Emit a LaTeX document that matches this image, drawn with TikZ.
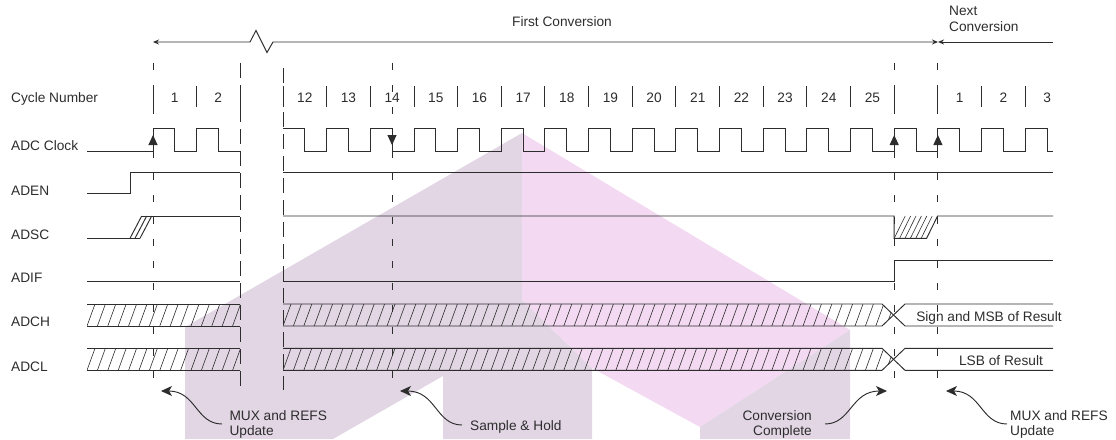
\documentclass[tikz,border=0pt]{standalone}
\usepackage{fontspec}
\setmainfont{Liberation Sans}
\usetikzlibrary{arrows.meta}
\definecolor{wmlav}{RGB}{226,214,229}
\definecolor{wmpink}{RGB}{243,217,241}
\definecolor{ink}{RGB}{45,45,45}
\begin{document}
\begin{tikzpicture}[x=1pt,y=-1pt,
  sig/.style={line width=0.95pt, draw=ink, line join=miter},
  hatchln/.style={line width=0.6pt, draw=ink},
  dashv/.style={line width=0.95pt, draw=ink, dash pattern=on 7pt off 15pt},
  brkv/.style={line width=0.95pt, draw=ink, dash pattern=on 15pt off 7pt},
  sepv/.style={line width=0.95pt, draw=ink},
  lbl/.style={anchor=base west, inner sep=0pt, text=ink, font=\fontsize{13.7}{15}\selectfont},
  num/.style={anchor=base, inner sep=0pt, text=ink, font=\fontsize{13.7}{15}\selectfont},
  curvarr/.style={line width=0.95pt, draw=ink, -{Stealth[length=11pt,width=10pt,inset=3pt]}},
  toparr/.style={line width=0.95pt, draw=ink},
  edgearr/.style={line width=0.95pt, draw=ink, -{Triangle[length=10pt,width=9pt]}}
]
\useasboundingbox (0,0) rectangle (1116,439);
% ---------- watermark ----------
\fill[wmlav] (185,439) -- (185,327) -- (522,133) -- (522,300) -- (592,368) -- (592,439) -- (443,439) -- (443,376) -- (333,439) -- cycle;
\fill[wmpink] (522,133) -- (850,330) -- (700,427) -- (592,368) -- (522,300) -- cycle;
\fill[wmlav] (700,427) -- (850,330) -- (850,439) -- (700,439) -- cycle;

% ---------- top conversion arrows ----------
\coordinate (fcL) at (153,42);
\coordinate (fcR) at (938,42);
\coordinate (ncR) at (1053,42);
\draw[toparr,{Stealth[length=6pt,width=5pt]}-{Stealth[length=6pt,width=5pt]}] (fcL) -- (250,42) -- (256,30.5) -- (267,52.5) -- (273,42) -- (fcR);
\draw[toparr,{Stealth[open,length=6pt,width=5pt]}-] (fcR) -- (ncR);
\node[num] (tfirst) at (562,26) {First Conversion};
\node[lbl] (tnext1) at (949,15) {Next};
\node[lbl] (tnext2) at (949,31.7) {Conversion};

% ---------- labels ----------
\node[lbl] (lcyc) at (11,102.7) {Cycle Number};
\node[lbl] (lclk) at (11,150.7) {ADC Clock};
\node[lbl] (laden) at (11,195) {ADEN};
\node[lbl] (ladsc) at (11,239.3) {ADSC};
\node[lbl] (ladif) at (11,282.7) {ADIF};
\node[lbl] (ladch) at (11,326.7) {ADCH};
\node[lbl] (ladcl) at (11,371.5) {ADCL};

% ---------- vertical dashed markers ----------
\foreach \x in {153,392,894.2,937.9} \draw[dashv] (\x,63) -- (\x,392);
\draw[brkv] (240,63) -- (240,387);
\draw[brkv] (283,68) -- (283,390);

% ---------- cycle separators and numbers ----------
\foreach \x in {153,196.5,240} \draw[sepv] (\x,86) -- (\x,107);
\foreach \k in {0,1,2,3,...,13,14,15,16,17} \draw[sepv] ({283+\k*43.66},86) -- ({283+\k*43.66},107);
\node[num] (c1a) at (174.75,102) {1};
\node[num] (c2a) at (218.25,102) {2};
\foreach \n in {12,...,25} \node[num] (c\n) at ({283+(\n-12+0.5)*43.66},102) {\n};
\node[num] (c1b) at ({283+15.5*43.66},102) {1};
\node[num] (c2b) at ({283+16.5*43.66},102) {2};
\node[num] (c3b) at ({283+17.5*43.66},102) {3};

% ---------- ADC clock ----------
\draw[sig] (87,151) -- (153,151) -- (153,128.5) -- (174.75,128.5) -- (174.75,151) -- (196.5,151) -- (196.5,128.5) -- (218.25,128.5) -- (218.25,151) -- (240,151);
\draw[sig] (283,128.5) \foreach \i in {0,...,16} { -- ({283+\i*43.66},128.5) -- ({283+(\i+0.5)*43.66},128.5) -- ({283+(\i+0.5)*43.66},151) -- ({283+(\i+1)*43.66},151) -- ({283+(\i+1)*43.66},128.5) } -- (1047,128.5) -- (1047,151) -- (1053,151);
\draw[edgearr] (153,151) -- (153,135);
\draw[edgearr] (392,128.5) -- (392,145);
\draw[edgearr] (894.2,151) -- (894.2,135);
\draw[edgearr] (937.9,151) -- (937.9,135);

% ---------- ADEN ----------
\draw[sig] (87,193.3) -- (130,193.3) -- (130,172.7) -- (240,172.7);
\draw[sig] (283,172.7) -- (1053,172.7);

% ---------- ADSC ----------
\draw[sig] (87,238.3) -- (140,238.3);
\foreach \s in {130,135,140} \draw[sig] (\s,238.3) -- ++(11.7,-22.3);
\draw[sig] (141.7,216) -- (240,216);
\draw[sig] (283,216) -- (894.2,216) -- (894.2,238.3) -- (926.6,238.3) -- (937.6,216) -- (1053,216);
\foreach \s in {0,...,5} \draw[hatchln] ({894.2+\s*5.4},238.3) -- ++(11,-22.3);

% ---------- ADIF ----------
\draw[sig] (87,281.7) -- (240,281.7);
\draw[sig] (283,281.7) -- (894.2,281.7) -- (894.2,260) -- (1053,260);

% ---------- ADCH / ADCL buses ----------
\foreach \yt/\yb in {304/326,348.3/370.3} {
  \pgfmathsetmacro{\ym}{(\yt+\yb)/2}
  \begin{scope}
    \clip (87,\yt) rectangle (240,\yb);
    \foreach \k in {0,...,15} \draw[hatchln] ({87+\k*10.4},\yb) -- ++(8,-22);
  \end{scope}
  \begin{scope}
    \clip (283,\yt) -- (882,\yt) -- (893.5,\ym) -- (882,\yb) -- (283,\yb) -- cycle;
    \foreach \k in {0,...,59} \draw[hatchln] ({283+\k*10.4},\yb) -- ++(8,-22);
  \end{scope}
  \draw[sig] (87,\yt) -- (240,\yt);
  \draw[sig] (87,\yb) -- (240,\yb);
  \draw[sig] (283,\yt) -- (882,\yt) -- (905,\yb) -- (1053,\yb);
  \draw[sig] (283,\yb) -- (882,\yb) -- (905,\yt) -- (1053,\yt);
}
\node[num] (tmsb) at (989,321.7) {Sign and MSB of Result};
\node[num] (tlsb) at (1001,365.5) {LSB of Result};

% ---------- annotations ----------
\node[lbl] (mux1a) at (229.3,420.7) {MUX and REFS};
\node[lbl] (mux1b) at (229.3,435.5) {Update};
\node[lbl] (sh) at (470,430) {Sample \& Hold};
\node[lbl,anchor=base east] (cc1) at (812,420.5) {Conversion};
\node[lbl,anchor=base east] (cc2) at (812,435.5) {Complete};
\node[lbl] (mux2a) at (1010,420.7) {MUX and REFS};
\node[lbl] (mux2b) at (1010,435.5) {Update};

\coordinate (a1s) at (222,424);   \coordinate (a1e) at (161,391);
\coordinate (a2s) at (462,425);   \coordinate (a2e) at (400,391);
\coordinate (a3s) at (825,424);   \coordinate (a3e) at (887,391);
\coordinate (a4s) at (1007,424);  \coordinate (a4e) at (946,391);
\draw[curvarr] (a1s) .. controls (196,424) and (196,391) .. (a1e);
\draw[curvarr] (a2s) .. controls (436,425) and (436,391) .. (a2e);
\draw[curvarr] (a3s) .. controls (851,424) and (851,391) .. (a3e);
\draw[curvarr] (a4s) .. controls (981,424) and (981,391) .. (a4e);
\end{tikzpicture}
\end{document}
